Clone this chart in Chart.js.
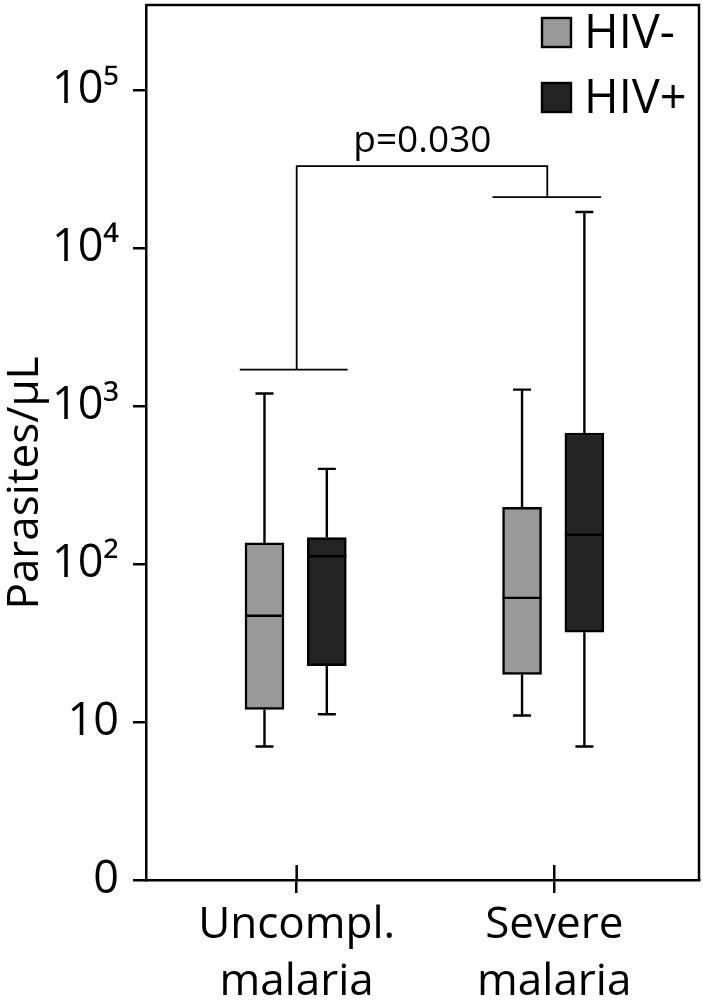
<!DOCTYPE html>
<html>
<head>
<meta charset="utf-8">
<script src="https://cdn.jsdelivr.net/npm/chart.js@4"></script>
<style>
  html, body { margin: 0; padding: 0; background: #fff; }
  canvas { display: block; }
</style>
</head>
<body>
<canvas id="chart" width="703" height="1006"></canvas>
<script>
// categories and box-plot values (parasites per microlitre)
const categories = [['Uncompl.', 'malaria'], ['Severe', 'malaria']];
const categoryPos = [1, 2];
const seriesNames = ['HIV-', 'HIV+'];

const hivNegMin = [7, 11];
const hivNegQ1 = [12, 20];
const hivNegMedian = [47, 61];
const hivNegQ3 = [136, 228];
const hivNegMax = [1200, 1270];

const hivPosMin = [11.2, 7];
const hivPosQ1 = [22.7, 37];
const hivPosMedian = [112, 153];
const hivPosQ3 = [147, 675];
const hivPosMax = [400, 16900];

const yTickValues = [1, 10, 100, 1000, 10000, 100000];
const yTickLabels = ['0', '10', '10²', '10³', '10⁴', '10⁵'];

const pValueText = 'p=0.030';

const FONT = "'Open Sans', 'Noto Sans', sans-serif";
const groupShift = [-0.125, 0.117];

function boxData(q1, q3, shift) {
    return categoryPos.map((c, i) => ({ x: c + shift, y: [q1[i], q3[i]] }));
}

const stats = [
    { min: hivNegMin, med: hivNegMedian, max: hivNegMax },
    { min: hivPosMin, med: hivPosMedian, max: hivPosMax }
];

function noPadding(scale) {
    scale.paddingTop = 0;
    scale.paddingBottom = 0;
    scale.paddingLeft = 0;
    scale.paddingRight = 0;
}

// whiskers, caps and medians drawn from the scales
const boxExtras = {
    id: 'boxExtras',
    afterDatasetsDraw(chart) {
        const ctx = chart.ctx;
        const y = chart.scales.y;
        ctx.save();
        ctx.strokeStyle = '#000';
        ctx.lineWidth = 2.4;
        chart.data.datasets.forEach((ds, di) => {
            const meta = chart.getDatasetMeta(di);
            meta.data.forEach((bar, i) => {
                const s = stats[di];
                const x = bar.x;
                const half = bar.width / 2;
                const yTop = Math.min(bar.y, bar.base);
                const yBot = Math.max(bar.y, bar.base);
                const yMax = y.getPixelForValue(s.max[i]);
                const yMin = y.getPixelForValue(s.min[i]);
                const yMed = y.getPixelForValue(s.med[i]);
                ctx.beginPath();
                ctx.moveTo(x, yTop); ctx.lineTo(x, yMax);
                ctx.moveTo(x - 9, yMax); ctx.lineTo(x + 9, yMax);
                ctx.moveTo(x, yBot); ctx.lineTo(x, yMin);
                ctx.moveTo(x - 9, yMin); ctx.lineTo(x + 9, yMin);
                ctx.moveTo(x - half, yMed); ctx.lineTo(x + half, yMed);
                ctx.stroke();
            });
        });
        ctx.restore();
    }
};

// frame, inner category ticks, bracket, legend and axis title
const decorations = {
    id: 'decorations',
    afterDraw(chart) {
        const ctx = chart.ctx;
        const area = chart.chartArea;
        const x = chart.scales.x;
        const y = chart.scales.y;
        ctx.save();
        ctx.strokeStyle = '#000';
        ctx.lineWidth = 2.5;

        // top and right frame
        ctx.beginPath();
        ctx.moveTo(area.left, area.top);
        ctx.lineTo(area.right, area.top);
        ctx.lineTo(area.right, area.bottom);
        ctx.stroke();

        // category ticks poke into the plot
        ctx.beginPath();
        categoryPos.forEach(c => {
            const px = x.getPixelForValue(c);
            ctx.moveTo(px, area.bottom);
            ctx.lineTo(px, area.bottom - 15);
        });
        ctx.stroke();

        // significance bracket
        const b = { left: 1, right: 1.973, top: 33000, leftCap: 1700, rightCap: 21000,
                    leftSpan: [0.779, 1.198], rightSpan: [1.76, 2.182] };
        ctx.lineWidth = 1.8;
        ctx.beginPath();
        ctx.moveTo(x.getPixelForValue(b.leftSpan[0]), y.getPixelForValue(b.leftCap));
        ctx.lineTo(x.getPixelForValue(b.leftSpan[1]), y.getPixelForValue(b.leftCap));
        ctx.moveTo(x.getPixelForValue(b.left), y.getPixelForValue(b.leftCap));
        ctx.lineTo(x.getPixelForValue(b.left), y.getPixelForValue(b.top));
        ctx.lineTo(x.getPixelForValue(b.right), y.getPixelForValue(b.top));
        ctx.lineTo(x.getPixelForValue(b.right), y.getPixelForValue(b.rightCap));
        ctx.moveTo(x.getPixelForValue(b.rightSpan[0]), y.getPixelForValue(b.rightCap));
        ctx.lineTo(x.getPixelForValue(b.rightSpan[1]), y.getPixelForValue(b.rightCap));
        ctx.stroke();

        ctx.fillStyle = '#000';
        ctx.font = '500 37px ' + FONT;
        ctx.textAlign = 'center';
        ctx.textBaseline = 'alphabetic';
        ctx.fillText(pValueText, x.getPixelForValue(1.488), 152);

        // legend
        ctx.lineWidth = 2.4;
        ctx.font = '500 47px ' + FONT;
        ctx.textAlign = 'left';
        ctx.textBaseline = 'middle';
        chart.data.datasets.forEach((ds, i) => {
            const top = 18 + i * 65;
            ctx.fillStyle = ds.backgroundColor;
            ctx.fillRect(542, top, 29, 29);
            ctx.strokeRect(542, top, 29, 29);
            ctx.fillStyle = '#000';
            ctx.fillText(ds.label, 584, top + 17);
        });

        // y axis title
        ctx.font = '500 44px ' + FONT;
        ctx.textAlign = 'center';
        ctx.textBaseline = 'alphabetic';
        ctx.translate(38, 483);
        ctx.rotate(-Math.PI / 2);
        ctx.fillText('Parasites/µL', 0, 0);
        ctx.restore();
    }
};

const ctx = document.getElementById('chart').getContext('2d');
new Chart(ctx, {
    type: 'bar',
    data: {
        datasets: [
            {
                label: seriesNames[0],
                data: boxData(hivNegQ1, hivNegQ3, groupShift[0]),
                backgroundColor: '#999999',
                borderColor: '#000',
                borderWidth: 2.5,
                borderSkipped: false,
                barThickness: 39,
                grouped: false
            },
            {
                label: seriesNames[1],
                data: boxData(hivPosQ1, hivPosQ3, groupShift[1]),
                backgroundColor: '#232323',
                borderColor: '#000',
                borderWidth: 2.5,
                borderSkipped: false,
                barThickness: 39,
                grouped: false
            }
        ]
    },
    options: {
        responsive: false,
        animation: false,
        devicePixelRatio: 1,
        layout: { padding: { top: 5, right: 4, left: 0, bottom: 0 } },
        plugins: {
            legend: { display: false },
            tooltip: { enabled: false }
        },
        scales: {
            x: {
                type: 'linear',
                offset: false,
                min: 0.415,
                max: 2.562,
                afterBuildTicks: scale => { scale.ticks = categoryPos.map(v => ({ value: v })); },
                afterFit: scale => { scale.height = 126; noPadding(scale); },
                ticks: {
                    autoSkip: false,
                    maxRotation: 0,
                    color: '#000',
                    padding: 4,
                    font: { family: FONT, size: 44, weight: '500', lineHeight: 1.3 },
                    callback: v => categories[categoryPos.indexOf(v)]
                },
                grid: { offset: false, drawOnChartArea: false, tickLength: 13, color: '#000', lineWidth: 2.5 },
                border: { color: '#000', width: 2.5 }
            },
            y: {
                type: 'logarithmic',
                min: 1,
                max: 345000,
                afterBuildTicks: scale => { scale.ticks = yTickValues.map(v => ({ value: v })); },
                afterFit: scale => { scale.width = 146; noPadding(scale); },
                ticks: {
                    autoSkip: false,
                    color: '#000',
                    padding: 14,
                    font: { family: FONT, size: 45, weight: '500' },
                    callback: v => yTickLabels[yTickValues.indexOf(v)]
                },
                grid: { drawOnChartArea: false, tickLength: 13, color: '#000', lineWidth: 2.5 },
                border: { color: '#000', width: 2.5 }
            }
        }
    },
    plugins: [boxExtras, decorations]
});
</script>
</body>
</html>
